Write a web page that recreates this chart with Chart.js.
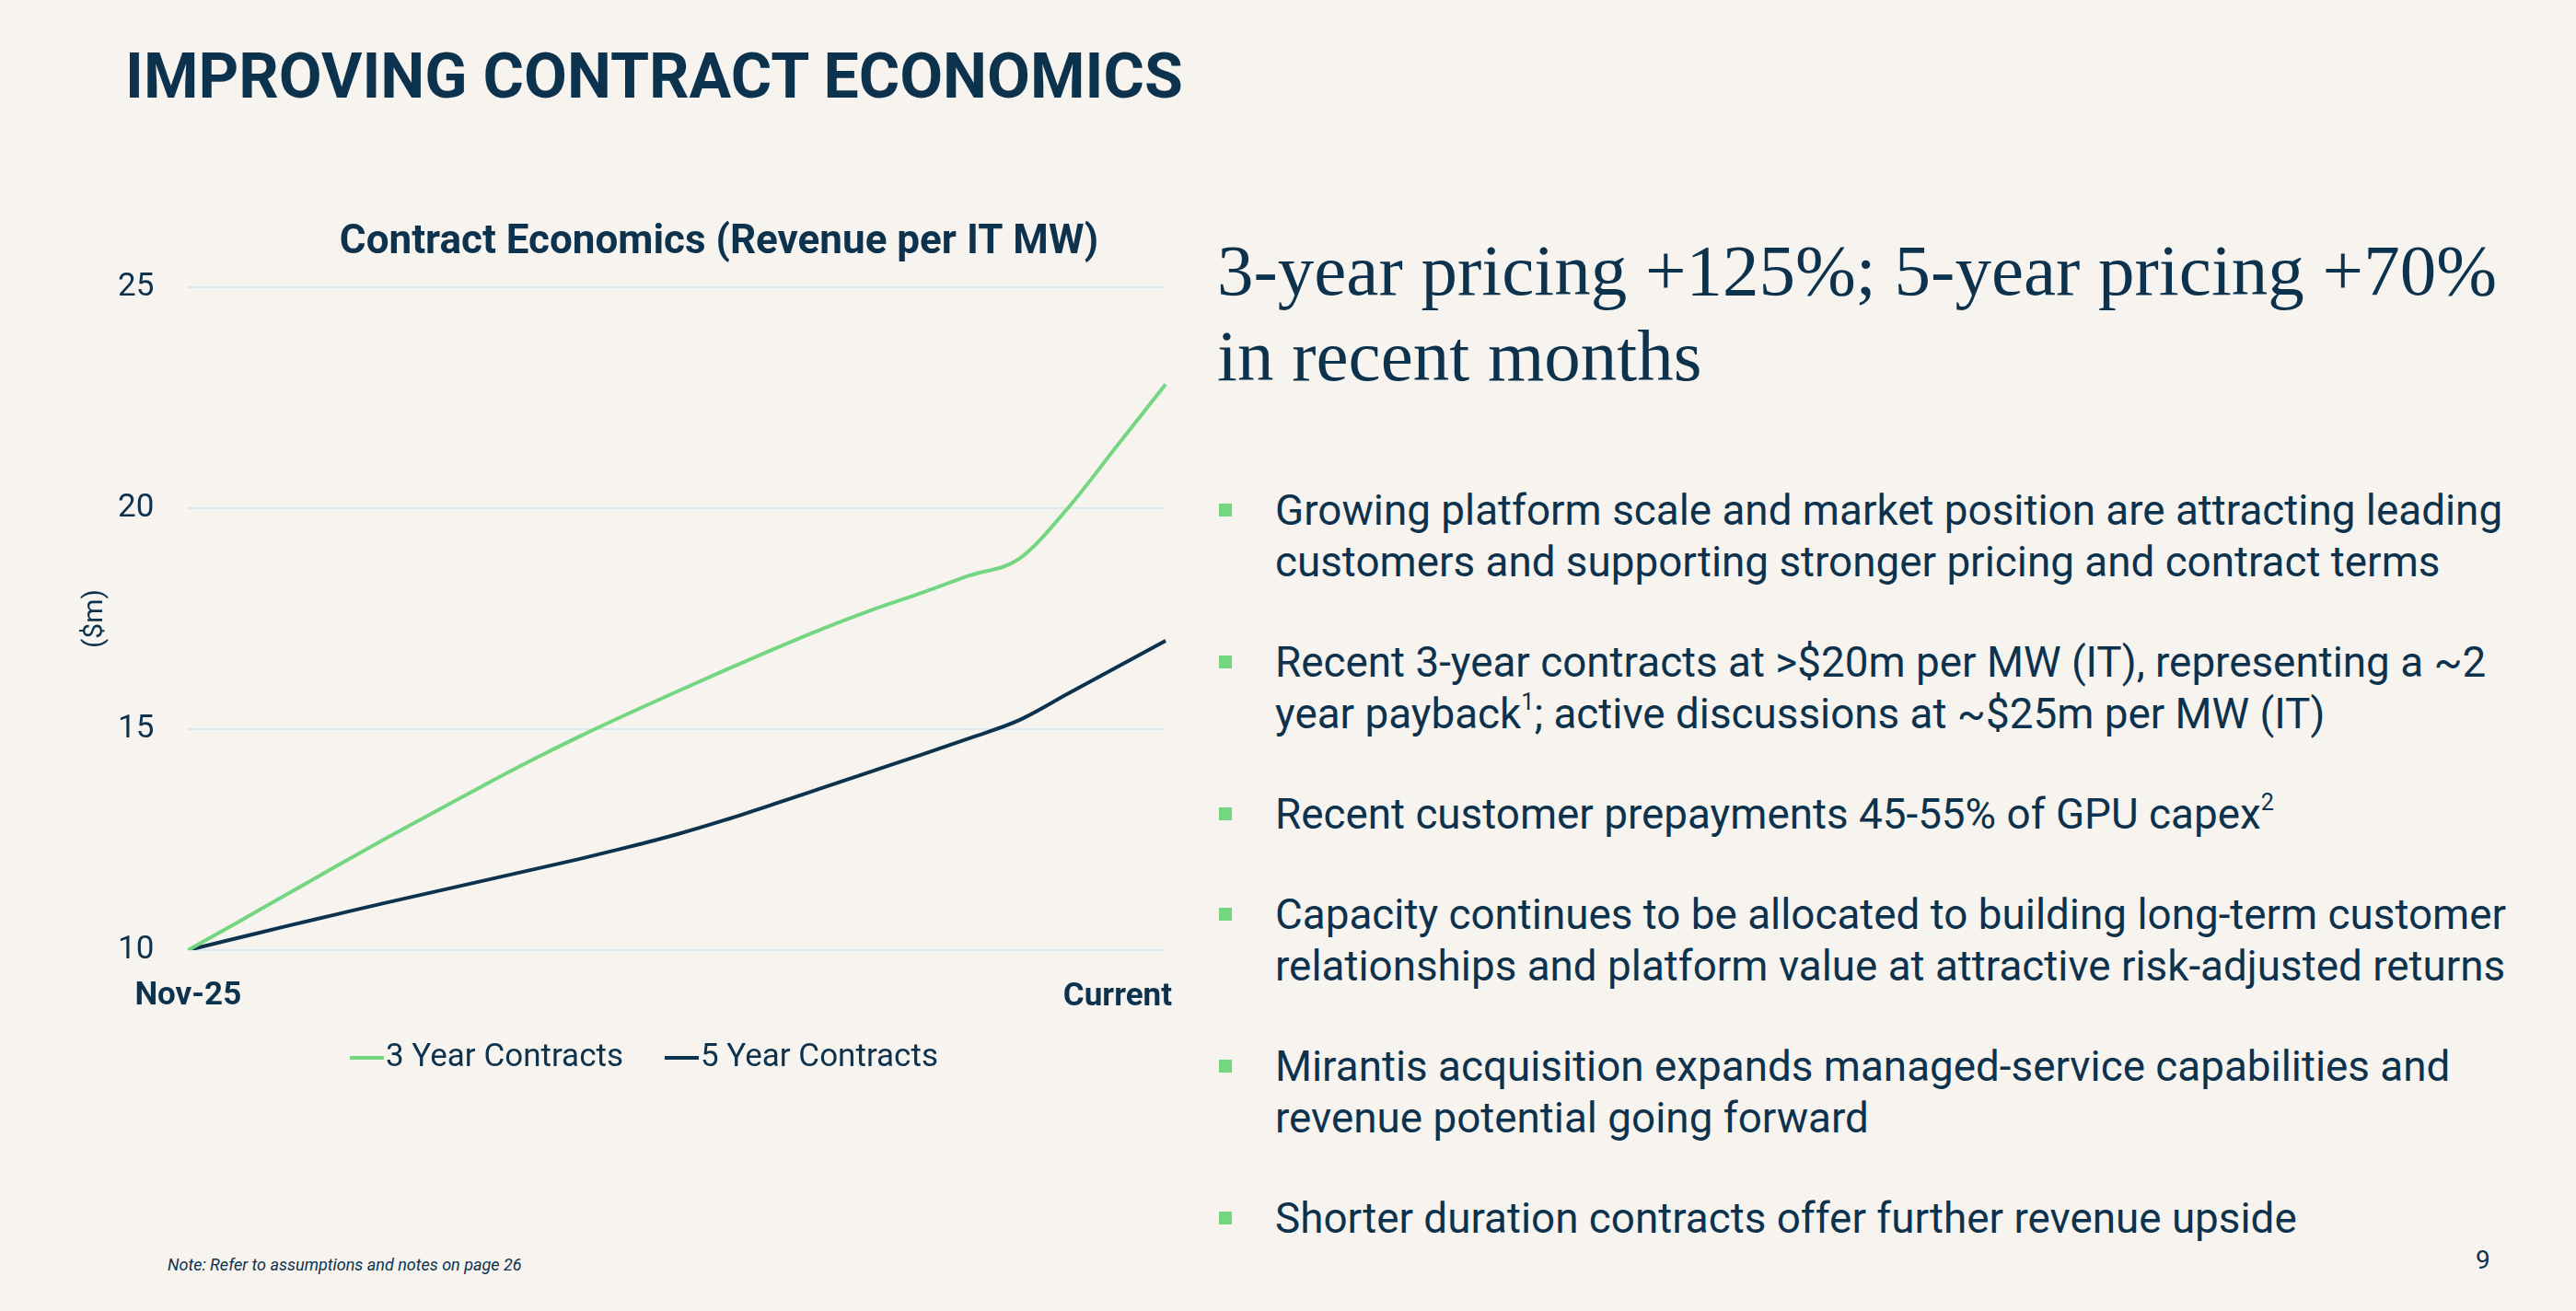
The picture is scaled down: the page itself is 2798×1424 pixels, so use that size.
<!DOCTYPE html>
<html>
<head>
<meta charset="utf-8">
<script src="https://cdn.jsdelivr.net/npm/chart.js@4.4.1/dist/chart.umd.min.js"></script>
<style>
  html, body { margin: 0; padding: 0; }
  body {
    width: 2798px; height: 1424px; position: relative; overflow: hidden;
    background: #f7f3ef; color: #0d324d; font-family: Roboto, sans-serif;
  }
  h1 {
    position: absolute; left: 136px; top: 49px; margin: 0;
    font-size: 68px; line-height: 1; font-weight: 700;
  }
  #chartBox { position: absolute; left: 0; top: 200px; width: 1300px; height: 1000px; }
  .headline {
    position: absolute; left: 1322px; top: 247px; margin: 0;
    font-family: "Liberation Serif", serif; font-weight: 400;
    font-size: 79px; line-height: 93px; white-space: nowrap;
  }
  ul.points {
    position: absolute; left: 1385px; top: 527px; margin: 0; padding: 0;
    list-style: none; font-size: 45.8px; line-height: 56px; white-space: nowrap;
  }
  ul.points li { position: relative; margin-bottom: 53px; }
  ul.points li::before {
    content: ""; position: absolute; left: -61px; top: 20px;
    width: 14px; height: 14px; background: #74d680;
  }
  sup { font-size: 0.55em; line-height: 0; position: relative; top: -0.15em; }
  .note {
    position: absolute; left: 182px; top: 1364px; font-size: 18px;
    line-height: 20px; font-style: italic;
  }
  .page { position: absolute; left: 2689px; top: 1355px; font-size: 28px; line-height: 1; }
</style>
</head>
<body>
<h1>IMPROVING CONTRACT ECONOMICS</h1>

<div id="chartBox"><canvas id="econChart" width="1300" height="1000"></canvas></div>

<div class="headline">3-year pricing +125%; 5-year pricing +70%<br>in recent months</div>

<ul class="points">
  <li>Growing platform scale and market position are attracting leading<br>customers and supporting stronger pricing and contract terms</li>
  <li>Recent 3-year contracts at &gt;$20m per MW (IT), representing a ~2<br>year payback<sup>1</sup>; active discussions at ~$25m per MW (IT)</li>
  <li>Recent customer prepayments 45-55% of GPU capex<sup>2</sup></li>
  <li>Capacity continues to be allocated to building long-term customer<br>relationships and platform value at attractive risk-adjusted returns</li>
  <li>Mirantis acquisition expands managed-service capabilities and<br>revenue potential going forward</li>
  <li>Shorter duration contracts offer further revenue upside</li>
</ul>

<div class="note">Note: Refer to assumptions and notes on page 26</div>
<div class="page">9</div>

<script>
// values, $m revenue per IT MW
const periods = ['Nov-25', '', '', '', '', '', '', '', '', '', '', '', '', '', '', '', '', '', '', '', 'Current'];
const threeYear = [10, 10.62, 11.25, 11.88, 12.5, 13.1, 13.7, 14.28, 14.83, 15.35, 15.85, 16.34, 16.82, 17.28, 17.7, 18.08, 18.48, 18.85, 20.0, 21.4, 22.8];
const fiveYear = [10, 10.27, 10.54, 10.8, 11.06, 11.31, 11.56, 11.81, 12.06, 12.33, 12.62, 12.95, 13.31, 13.68, 14.05, 14.42, 14.8, 15.2, 15.8, 16.4, 17.0];
const yTicks = [10, 15, 20, 25];
const seriesNames = ['3 Year Contracts', '5 Year Contracts'];

const navy = '#0d324d';
const green = '#74d680';
const font = 'Roboto';

// title, x labels and legend drawn by hand so they sit where the slide has them
const slideBits = {
    id: 'slideBits',
    afterDraw(chart) {
        const c = chart.ctx;
        const area = chart.chartArea;
        const xs = chart.scales.x;
        c.save();
        c.fillStyle = navy;
        c.textBaseline = 'middle';

        c.font = `bold 44px ${font}`;
        c.textAlign = 'center';
        c.fillText('Contract Economics (Revenue per IT MW)', 781, 64);

        c.font = `bold 35px ${font}`;
        periods.forEach(function(p, i) {
            if (!p) return;
            const x = xs.getPixelForValue(i);
            if (i === periods.length - 1) {
                c.textAlign = 'right';
                c.fillText(p, x + 7, area.bottom + 51);
            } else {
                c.textAlign = 'center';
                c.fillText(p, x, area.bottom + 50);
            }
        });

        c.font = `35px ${font}`;
        c.textAlign = 'left';
        let x = 380;
        const y = area.bottom + 117;
        chart.data.datasets.forEach(function(ds) {
            c.fillStyle = ds.borderColor;
            c.fillRect(x, y - 2, 37, 4);
            c.fillStyle = navy;
            c.fillText(ds.label, x + 39, y);
            x += 39 + c.measureText(ds.label).width + 45;
        });
        c.restore();
    }
};

new Chart(document.getElementById('econChart'), {
    type: 'line',
    data: {
        labels: periods,
        datasets: [
            { label: seriesNames[0], data: threeYear, borderColor: green, backgroundColor: green,
              borderWidth: 4, pointRadius: 0, cubicInterpolationMode: 'monotone' },
            { label: seriesNames[1], data: fiveYear, borderColor: navy, backgroundColor: navy,
              borderWidth: 4, pointRadius: 0, cubicInterpolationMode: 'monotone' }
        ]
    },
    options: {
        responsive: false,
        animation: false,
        devicePixelRatio: 1,
        layout: { padding: { left: 45, right: 34, top: 112, bottom: 160 } },
        plugins: {
            legend: { display: false },
            title: { display: false },
            tooltip: { enabled: false }
        },
        scales: {
            x: {
                ticks: { display: false },
                grid: { display: false },
                border: { display: false }
            },
            y: {
                min: yTicks[0],
                max: yTicks[yTicks.length - 1],
                afterBuildTicks: function(axis) {
                    axis.ticks = yTicks.map(v => ({ value: v }));
                },
                ticks: { color: navy, padding: 37, font: { family: font, size: 35 } },
                grid: { color: '#dce7f2', lineWidth: 2, drawTicks: false },
                border: { display: false },
                title: {
                    display: true, text: '($m)', color: navy,
                    font: { family: font, size: 30 }, padding: { top: 40, bottom: -30 }
                }
            }
        }
    },
    plugins: [slideBits]
});
</script>
</body>
</html>
